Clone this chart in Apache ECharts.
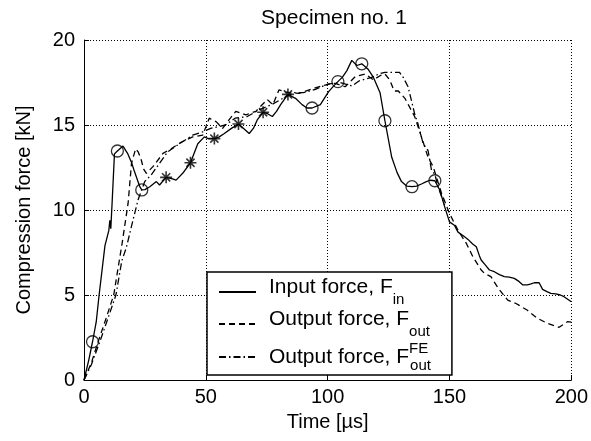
<!DOCTYPE html>
<html>
<head>
<meta charset="utf-8">
<script src="https://cdn.jsdelivr.net/npm/echarts@6/dist/echarts.min.js"></script>
<style>html,body{margin:0;padding:0;background:#fff;}#c{width:591px;height:441px;}</style>
</head>
<body>
<div id="c"></div>
<script>
// ---- data (time in µs, force in kN) ----
var inputT = [0,2,3.5,5,6.2,8.6,10.2,10.6,11.0,11.6,12.5,13.7,16,18,19.5,20.5,22.9,23.7,25,27,29.7,31,33.7,36,37.8,40.5,43.7,46.7,49.4,51,53.5,55.5,57.6,60.5,63.4,65.5,67.8,69.5,71.1,73.5,75.5,77.3,79,80.7,83.7,86.8,89.5,91.5,93.6,97,100.4,102.5,104.2,106,107.9,109.9,112,114,116.5,118.8,121.5,123.5,126.3,128.5,130.3,132.5,134.6,136.5,138.5,140.5,142,144,146,148,150,152,153.5,156.2,157.6,159.5,161,162.3,163,164.5,166.4,168.4,170.5,172.5,174.5,176.6,178.5,180,182,183.5,184.8,186.8,188.2,190,191.6,193.6,195.5,197,198.5,200];
var inputF = [0,1.2,2.25,3.4,5.0,7.9,8.8,9.4,8.9,10.6,13.3,13.47,13.76,13.3,12.8,12.35,11.37,11.18,11.2,11.37,11.67,11.47,11.92,11.85,11.76,12.16,12.78,13.9,14.3,14.2,14.2,14.3,14.5,14.8,15.06,14.8,14.5,14.8,15.3,15.75,15.65,15.5,15.8,16.2,16.8,16.57,16.2,16.0,16.0,16.2,16.96,17.3,17.55,17.8,18.2,18.8,18.5,18.6,18.3,17.8,16.9,15.25,13.1,12.2,11.67,11.4,11.37,11.4,11.53,11.67,11.75,11.72,11.18,10.2,9.3,9.1,8.7,8.43,8.27,8.0,7.84,7.3,7.06,6.8,6.47,6.37,6.2,6.08,6.05,5.98,5.8,5.6,5.6,5.65,5.72,5.72,5.33,5.2,5.1,5.06,5.0,4.9,4.75,4.6];

var outT = [0,3,5.8,9,12.2,14,15.6,18.1,19.5,21.2,22.3,23.5,24.5,25.6,28.3,32.4,35.8,40,44.6,48.7,51.4,54.2,56.9,59.5,62.3,66.4,70.5,75.2,77.5,80,84,88.2,94.3,99,101.8,103.1,107.2,111.3,115.4,118.8,121.5,123.5,125.5,127.3,129,131.7,135.7,138.5,141.2,143.3,146.7,150,153.5,156.9,159.6,163,164.4,167,170,173.9,177.3,182,186.1,190.2,195,198.4,200];
var outF = [0,1.0,2.25,3.6,5.0,6.6,8.0,10.4,12.75,13.6,13.4,12.94,12.4,12.16,12.55,13.33,13.6,14.0,14.3,14.4,15.4,15.2,14.8,15.3,15.8,15.6,15.8,16.5,16.2,17.06,16.9,16.86,17.16,17.35,17.45,17.45,17.25,17.84,18.0,17.65,17.9,18.0,17.65,17.0,17.0,16.57,15.5,14.3,13.1,12.55,11.0,9.8,8.8,8.04,7.25,6.47,6.27,6.08,5.4,4.7,4.5,4.1,3.63,3.33,3.1,3.43,3.4];

var feT = [0,3,6.5,10,13.1,15.5,17.4,20.1,22.2,24.9,27.6,31,34.4,39.2,44.6,48.7,52,58,62,67,72,77,82,86,90,95,100,105,110,113,118,121,123.5,129.5,131,133,135.8,137,139.2,141.2,142.6,144,145.3,148];
var feF = [0,0.9,2.25,3.7,5.0,7.0,7.8,9.4,10.6,11.67,12.06,12.75,13.43,13.9,14.4,14.6,14.8,15.0,15.4,15.5,15.9,16.2,16.6,16.9,16.9,17.1,17.4,17.5,17.3,17.6,17.8,18.0,18.1,18.1,17.8,17.25,15.6,15.1,13.9,13.5,12.35,12.1,11.37,10.3];

// markers on the input force curve
var circleT = [3.5,13.7,23.7,93.6,104.2,114,123.5,134.6,144];
var circleF = [2.25,13.47,11.18,16.0,17.55,18.6,15.25,11.37,11.72];
var starT = [33.7,43.7,53.5,63.4,73.5,83.7];
var starF = [11.92,12.78,14.2,15.06,15.75,16.8];

var xTicks = [0,50,100,150,200];
var yTicks = [0,5,10,15,20];
var names = ['Input force, F_in','Output force, F_out','Output force, F_out^FE'];

function zip(a,b){return a.map(function(v,i){return [v,b[i]];});}

var FONT = 'Liberation Sans';
var chart = echarts.init(document.getElementById('c'), null, {renderer:'canvas'});
var option = {
  animation:false,
  backgroundColor:'#fff',
  title:{text:'Specimen no. 1', left:329, top:3, textAlign:'center',
    textStyle:{fontFamily:FONT,fontSize:21,fontWeight:'normal',color:'#000'}},
  grid:{left:84,right:17,top:40,bottom:61},
  xAxis:{type:'value',min:xTicks[0],max:xTicks[xTicks.length-1],interval:50,
    name:'Time [µs]',nameLocation:'middle',nameGap:32,
    nameTextStyle:{fontFamily:FONT,fontSize:20,color:'#000'},
    axisLine:{lineStyle:{color:'#000',width:1}},
    axisTick:{inside:true,length:5,lineStyle:{color:'#000'}},
    axisLabel:{fontFamily:FONT,fontSize:20,color:'#000',margin:7},
    splitLine:{show:true,lineStyle:{color:'#000',type:[1,2],width:1}}},
  yAxis:{type:'value',min:yTicks[0],max:yTicks[yTicks.length-1],interval:5,
    name:'Compression force [kN]',nameLocation:'middle',nameGap:50,
    nameTextStyle:{fontFamily:FONT,fontSize:20,color:'#000'},
    axisLine:{show:true,lineStyle:{color:'#000',width:1}},
    axisTick:{show:true,inside:true,length:5,lineStyle:{color:'#000'}},
    axisLabel:{fontFamily:FONT,fontSize:20,color:'#000',margin:9},
    splitLine:{show:true,lineStyle:{color:'#000',type:[1,2],width:1}}},
  legend:{
    data:names, orient:'vertical', left:207, top:272,
    padding:[5,21,2,11], itemGap:2, itemWidth:37, itemHeight:14,
    backgroundColor:'#fff', borderColor:'#000', borderWidth:1.5, borderRadius:0,
    selectedMode:false,
    itemStyle:{color:'rgba(0,0,0,0)',borderWidth:0,opacity:0},
    formatter:function(n){
      if(n===names[0]) return '{sp|}{m|Input force, F}{sb|in}';
      if(n===names[1]) return '{sp|}{m|Output force, F}{sb|out}';
      return '{sp|}{m2|Output force, F}{sp2|FE}{sb2|out}';
    },
    textStyle:{fontFamily:FONT,color:'#000',rich:{
      sp:{width:8,fontSize:20,lineHeight:30},
      m:{fontFamily:FONT,fontSize:21,color:'#000',lineHeight:24,verticalAlign:'top'},
      sb:{fontFamily:FONT,fontSize:15,color:'#000',lineHeight:30,verticalAlign:'bottom'},
      m2:{fontFamily:FONT,fontSize:21,color:'#000',lineHeight:22,verticalAlign:'middle'},
      sp2:{fontFamily:FONT,fontSize:15,color:'#000',lineHeight:16,width:1,verticalAlign:'top'},
      sb2:{fontFamily:FONT,fontSize:15,color:'#000',lineHeight:32,verticalAlign:'bottom'}
    }}
  },
  series:[
    {name:names[0],type:'line',data:zip(inputT,inputF),symbol:'none',
      lineStyle:{color:'#000',width:1.3,type:'solid'},itemStyle:{color:'#000'},z:3},
    {name:names[1],type:'line',data:zip(outT,outF),symbol:'none',
      lineStyle:{color:'#000',width:1.3,type:[6,4]},itemStyle:{color:'#000'},z:2},
    {name:names[2],type:'line',data:zip(feT,feF),symbol:'none',
      lineStyle:{color:'#000',width:1.3,type:[7,3,1.5,3]},itemStyle:{color:'#000'},z:2},
    {name:'circles',type:'scatter',data:zip(circleT,circleF),symbol:'circle',symbolSize:12,
      itemStyle:{color:'none',borderColor:'#000',borderWidth:1.3},z:4,silent:true},
    {name:'stars',type:'scatter',data:zip(starT,starF),
      symbol:'path://M5,0L5,10M0,5L10,5M1.6,1.6L8.4,8.4M8.4,1.6L1.6,8.4',symbolSize:12,
      itemStyle:{color:'none',borderColor:'#000',borderWidth:1.6},z:4,silent:true}
  ]
};
chart.setOption(option);
</script>
</body>
</html>
